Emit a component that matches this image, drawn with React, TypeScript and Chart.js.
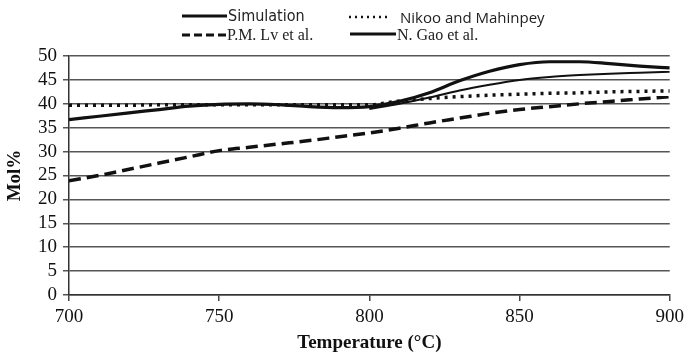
import React, { useEffect, useRef } from "react";
import { Chart, registerables } from "chart.js";

Chart.register(...registerables);

const temps = [700, 710, 720, 730, 740, 750, 760, 770, 780, 790, 800, 810, 820, 830, 840, 850, 860, 870, 880, 890, 900];
const simulation = [36.7, 37.4, 38.1, 38.8, 39.5, 39.9, 40.0, 39.8, 39.4, 39.2, 39.4, 40.5, 42.3, 44.8, 46.8, 48.2, 48.8, 48.8, 48.4, 47.9, 47.5];
const nikoo = [39.7, 39.7, 39.7, 39.8, 39.8, 39.8, 39.8, 39.8, 39.8, 39.8, 39.8, 40.6, 41.1, 41.5, 41.8, 42.0, 42.2, 42.3, 42.5, 42.6, 42.7];
const lv = [23.9, 25.0, 26.3, 27.6, 28.9, 30.2, 30.9, 31.6, 32.3, 33.1, 33.9, 34.9, 36.0, 37.0, 38.0, 38.8, 39.4, 40.0, 40.5, 41.0, 41.5];
const gaoTemps = [800, 810, 820, 830, 840, 850, 860, 870, 880, 890, 900];
const gao = [38.9, 40.0, 41.3, 42.8, 44.0, 45.0, 45.6, 46.0, 46.3, 46.5, 46.7];

const seriesNames = ["Simulation", "Nikoo and Mahinpey", "P.M. Lv et al.", "N. Gao et al."];
const xTitle = "Temperature (°C)";
const yTitle = "Mol%";

const pts = (xs: number[], ys: number[]) => xs.map((x, i) => ({ x, y: ys[i] }));

export default function App() {
  const ref = useRef<HTMLCanvasElement | null>(null);

  useEffect(() => {
    document.body.style.margin = "0";
    if (!ref.current) return;
    const serif = "'Liberation Serif', 'Times New Roman', serif";
    const chart = new Chart(ref.current, {
      type: "line",
      data: {
        datasets: [
          {
            label: seriesNames[0],
            data: pts(temps, simulation),
            borderColor: "#111",
            borderWidth: 3.2,
            pointRadius: 0,
            tension: 0.4,
            cubicInterpolationMode: "monotone",
          },
          {
            label: seriesNames[1],
            data: pts(temps, nikoo),
            borderColor: "#111",
            borderWidth: 3.5,
            borderDash: [3, 5],
            pointRadius: 0,
            tension: 0.4,
            cubicInterpolationMode: "monotone",
          },
          {
            label: seriesNames[2],
            data: pts(temps, lv),
            borderColor: "#111",
            borderWidth: 3.5,
            borderDash: [12, 6],
            pointRadius: 0,
            tension: 0.4,
            cubicInterpolationMode: "monotone",
          },
          {
            label: seriesNames[3],
            data: pts(gaoTemps, gao),
            borderColor: "#111",
            borderWidth: 2,
            pointRadius: 0,
            tension: 0.4,
            cubicInterpolationMode: "monotone",
          },
        ],
      },
      options: {
        animation: false,
        responsive: true,
        maintainAspectRatio: false,
        layout: { padding: { top: 56, right: 17, left: 0, bottom: 0 } },
        plugins: { legend: { display: false }, tooltip: { enabled: false } },
        scales: {
          x: {
            type: "linear",
            min: 700,
            max: 900,
            ticks: { stepSize: 50, color: "#111", font: { family: serif, size: 19 }, padding: 5 },
            grid: { drawOnChartArea: false, drawTicks: true, tickLength: 6, color: "#444", lineWidth: 1.5 },
            border: { display: true, color: "#333", width: 1.5 },
            title: {
              display: true,
              text: xTitle,
              color: "#111",
              font: { family: serif, size: 19, weight: "bold" },
              padding: { top: 2, bottom: 4 },
            },
            afterFit: (s: any) => {
              s.height = 63;
            },
          },
          y: {
            min: 0,
            max: 50,
            ticks: {
              stepSize: 5,
              autoSkip: false,
              color: "#111",
              font: { family: serif, size: 19 },
              padding: 6,
            },
            grid: { color: "#555", lineWidth: 1.5, tickLength: 6 },
            border: { display: true, color: "#333", width: 1.5 },
            title: {
              display: true,
              text: yTitle,
              color: "#111",
              font: { family: serif, size: 19, weight: "bold" },
              padding: { top: 4, bottom: 4 },
            },
            afterFit: (s: any) => {
              s.width = 69;
            },
          },
        },
      },
    });
    return () => chart.destroy();
  }, []);

  const sans = "'Open Sans', 'Liberation Sans', sans-serif";
  const narrow = "'Liberation Sans Narrow', 'DejaVu Sans Condensed', 'Liberation Sans', sans-serif";
  const serifCss = "'Liberation Serif', 'Times New Roman', serif";
  const txt = (left: number, top: number, family: string, size: number, text: string) => (
    <div
      style={{
        position: "absolute",
        left,
        top,
        fontFamily: family,
        fontSize: size,
        lineHeight: "18px",
        color: "#222",
        whiteSpace: "nowrap",
      }}
    >
      {text}
    </div>
  );

  return (
    <div style={{ position: "absolute", left: 0, top: 0, width: 689, height: 358, background: "#fff" }}>
      <canvas ref={ref} />
      <svg width={689} height={50} style={{ position: "absolute", left: 0, top: 0, pointerEvents: "none" }}>
        <line x1={182} y1={16} x2={227} y2={16} stroke="#111" strokeWidth={3} />
        <line x1={349} y1={17} x2={390} y2={17} stroke="#111" strokeWidth={2.5} strokeDasharray="2 4" />
        <line x1={182} y1={35} x2={226} y2={35} stroke="#111" strokeWidth={3} strokeDasharray="8 4" />
        <line x1={350} y1={34} x2={396} y2={34} stroke="#111" strokeWidth={3} />
      </svg>
      {txt(228, 7, narrow, 16, seriesNames[0])}
      {txt(400, 8, sans, 15, seriesNames[1])}
      {txt(227, 26, serifCss, 16, seriesNames[2])}
      {txt(397, 26, serifCss, 16, seriesNames[3])}
    </div>
  );
}
